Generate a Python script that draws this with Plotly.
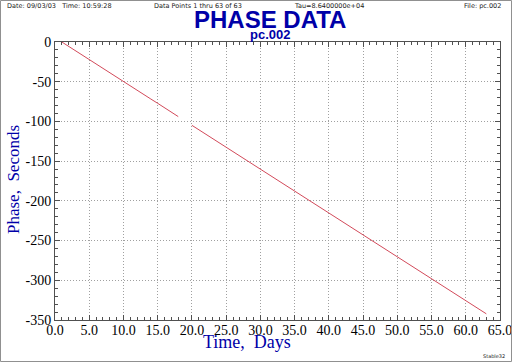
import plotly.graph_objects as go

days = list(range(1, 64))
phase = [0.0, -5.6, -11.0, -16.5, -22.1, -27.6, -33.1, -38.7, -44.1, -49.7,
         -55.2, -60.7, -66.3, -71.8, -77.2, -82.8, -88.3, -93.9, None, -104.9,
         -110.4, -115.9, -121.5, -127.0, -132.4, -138.0, -143.6, -149.0, -154.6, -160.1,
         -165.6, -171.2, -176.6, -182.2, -187.7, -193.2, -198.8, -204.3, -209.7, -215.3,
         -220.8, -226.3, -231.9, -237.4, -242.8, -248.4, -253.9, -259.5, -265.0, -270.4,
         -276.0, -281.5, -287.0, -292.6, -298.1, -303.5, -309.1, -314.6, -320.1, -325.7,
         -331.2, -336.6, -342.2]

x_ticks = [i * 5 for i in range(14)]
x_tick_labels = [f"{v:.1f}" for v in x_ticks]
y_ticks = [0, -50, -100, -150, -200, -250, -300, -350]
y_tick_labels = [str(v) for v in y_ticks]

W, H = 512, 362
L, R, T, B = 55, 12, 42, 42
pw, ph = W - L - R, H - T - B

fig = go.Figure()
fig.add_trace(go.Scatter(x=days, y=phase, mode="lines",
                         line=dict(color="#d24a5a", width=1),
                         connectgaps=False, hoverinfo="skip"))

blue = "#0000a8"
tickfont = dict(family="Liberation Serif", size=14, color="black")
axis_common = dict(showline=True, linecolor="#505050", linewidth=1, mirror="ticks",
                   ticks="inside", ticklen=5, tickcolor="#505050",
                   showgrid=True, gridcolor="#a0a0a0", griddash="1px,2px", gridwidth=1,
                   zeroline=False, automargin=False, tickfont=tickfont,
                   ticklabeloverflow="allow")

fig.update_xaxes(range=[0, 65], tickvals=x_ticks, ticktext=x_tick_labels,
                 ticklabelstandoff=-3,
                 minor=dict(dtick=1, ticks="inside", ticklen=3, tickcolor="#505050", showgrid=False),
                 **axis_common)
fig.update_yaxes(range=[-350, 0], tickvals=y_ticks, ticktext=y_tick_labels,
                 minor=dict(dtick=10, ticks="inside", ticklen=3, tickcolor="#505050", showgrid=False),
                 **axis_common)

def px(x):
    return (x - L) / pw

def py(y):
    return (H - B - y) / ph

small = dict(family="DejaVu Sans", size=6.5, color="#202020")
ann = [
    dict(x=px(5), y=py(6), text="Date: 09/03/03   Time: 10:59:28", xanchor="left", font=small),
    dict(x=px(152), y=py(6), text="Data Points 1 thru 63 of 63", xanchor="left", font=small),
    dict(x=px(292), y=py(6), text="Tau=8.6400000e+04", xanchor="left", font=small),
    dict(x=px(503), y=py(6), text="File: pc.002", xanchor="right", font=small),
    dict(x=px(270), y=py(19), text="<b>PHASE DATA</b>", xanchor="center",
         font=dict(family="Liberation Sans", size=24, color=blue)),
    dict(x=px(270), y=py(35), text="<b>pc.002</b>", xanchor="center",
         font=dict(family="Liberation Sans", size=13, color=blue)),
    dict(x=px(247), y=py(342), text="Time,  Days", xanchor="center",
         font=dict(family="Liberation Serif", size=18, color=blue)),
    dict(x=px(13), y=py(180), text="Phase,  Seconds", xanchor="center", textangle=-90,
         font=dict(family="Liberation Serif", size=17, color=blue)),
    dict(x=px(507), y=py(356), text="Stable32", xanchor="right",
         font=dict(family="DejaVu Sans", size=5, color="#202020")),
]
for a in ann:
    a.update(xref="paper", yref="paper", yanchor="middle", showarrow=False)

fig.update_layout(
    width=W, height=H,
    margin=dict(l=L, r=R, t=T, b=B, autoexpand=False),
    paper_bgcolor="white", plot_bgcolor="white",
    font=dict(family="Liberation Serif", size=14, color="black"),
    showlegend=False,
    annotations=ann,
    shapes=[dict(type="rect", xref="paper", yref="paper",
                 x0=px(0.5), x1=px(511.5), y0=py(361.5), y1=py(0.5),
                 line=dict(color="#909090", width=1))],
)

fig.write_html("out.html", config={"displayModeBar": False},
               post_script="document.body.style.margin='0';document.body.style.overflow='hidden';")
